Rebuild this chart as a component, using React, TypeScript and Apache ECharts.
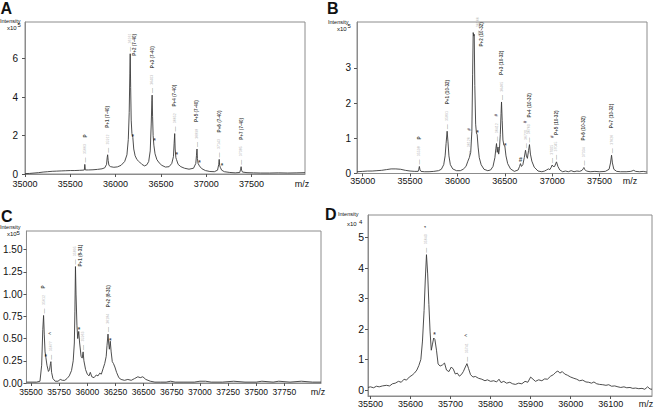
import React, { useEffect, useRef } from 'react';
import * as echarts from 'echarts';

// ---------- data ----------
const aSpectrum: number[][] = [
  [35000, 0.02], [35050, 0.03], [35100, 0.05], [35150, 0.07], [35200, 0.1], [35250, 0.12], [35300, 0.14],
  [35350, 0.15], [35400, 0.16], [35450, 0.17], [35500, 0.18], [35550, 0.18], [35600, 0.19], [35640, 0.2],
  [35655, 0.21], [35660, 0.5], [35666, 0.21], [35700, 0.21], [35750, 0.22], [35800, 0.24], [35850, 0.27],
  [35880, 0.32], [35900, 0.5], [35907, 0.85], [35912, 1.0], [35918, 0.7], [35926, 0.45], [35945, 0.38],
  [35980, 0.35], [36020, 0.37], [36060, 0.45], [36100, 0.65], [36125, 1.0], [36140, 1.8], [36150, 3.2],
  [36157, 5.2], [36161, 6.25], [36166, 4.5], [36172, 2.8], [36180, 2.1], [36190, 1.9], [36200, 1.3],
  [36215, 0.95], [36235, 0.75], [36250, 0.68], [36265, 0.62], [36290, 0.5], [36320, 0.42], [36345, 0.48],
  [36365, 0.65], [36382, 1.2], [36393, 2.6], [36400, 3.8], [36403, 4.1], [36408, 3.0], [36414, 2.0],
  [36422, 1.5], [36435, 1.05], [36455, 0.75], [36480, 0.58], [36510, 0.45], [36550, 0.36], [36590, 0.38],
  [36620, 0.55], [36638, 0.9], [36646, 1.6], [36652, 2.1], [36657, 1.3], [36665, 0.85], [36672, 0.75],
  [36690, 0.5], [36720, 0.38], [36760, 0.3], [36810, 0.25], [36860, 0.3], [36885, 0.55], [36892, 0.95],
  [36898, 1.3], [36903, 0.8], [36910, 0.55], [36925, 0.42], [36950, 0.28], [36990, 0.18], [37040, 0.13],
  [37090, 0.12], [37125, 0.2], [37138, 0.5], [37143, 0.76], [37148, 0.45], [37155, 0.35], [37170, 0.2],
  [37200, 0.12], [37260, 0.08], [37320, 0.06], [37370, 0.08], [37380, 0.25], [37385, 0.38], [37390, 0.2],
  [37400, 0.1], [37450, 0.07], [37520, 0.06], [37600, 0.05], [37700, 0.05], [37800, 0.06], [37900, 0.05],
  [38000, 0.06], [38090, 0.07],
];

const bSpectrum: number[][] = [
  [34940, 0.05], [35000, 0.06], [35050, 0.07], [35100, 0.07], [35150, 0.08], [35200, 0.09], [35250, 0.11],
  [35300, 0.13], [35350, 0.13], [35400, 0.12], [35450, 0.09], [35500, 0.07], [35550, 0.06], [35585, 0.06],
  [35592, 0.12], [35598, 0.2], [35605, 0.1], [35615, 0.06], [35650, 0.05], [35700, 0.05], [35750, 0.06],
  [35800, 0.08], [35830, 0.12], [35855, 0.25], [35870, 0.5], [35880, 0.85], [35891, 1.2], [35900, 0.9],
  [35910, 0.5], [35925, 0.25], [35950, 0.13], [35990, 0.08], [36030, 0.08], [36060, 0.12], [36090, 0.2],
  [36110, 0.35], [36125, 0.45], [36140, 0.6], [36152, 1.2], [36160, 2.8], [36166, 4.0], [36172, 3.9],
  [36177, 3.95], [36183, 2.5], [36192, 1.4], [36200, 1.15], [36208, 1.1], [36218, 0.75], [36230, 0.45],
  [36250, 0.25], [36280, 0.12], [36320, 0.08], [36350, 0.1], [36375, 0.2], [36395, 0.45], [36405, 0.7],
  [36412, 0.85], [36420, 0.6], [36428, 0.75], [36435, 0.55], [36443, 0.7], [36452, 1.1], [36460, 1.7],
  [36465, 2.03], [36472, 1.5], [36480, 0.95], [36490, 0.8], [36500, 0.78], [36512, 0.5], [36530, 0.28],
  [36560, 0.13], [36600, 0.06], [36640, 0.1], [36655, 0.2], [36665, 0.28], [36675, 0.2], [36690, 0.25],
  [36705, 0.45], [36718, 0.66], [36728, 0.5], [36738, 0.43], [36750, 0.65], [36760, 0.82], [36770, 0.55],
  [36785, 0.35], [36810, 0.18], [36850, 0.07], [36890, 0.05], [36920, 0.07], [36940, 0.1], [36960, 0.13],
  [36975, 0.11], [36990, 0.18], [36999, 0.24], [37010, 0.2], [37025, 0.2], [37045, 0.33], [37060, 0.2],
  [37080, 0.1], [37110, 0.05], [37140, 0.07], [37170, 0.05], [37200, 0.08], [37230, 0.05], [37260, 0.07],
  [37290, 0.06], [37315, 0.09], [37328, 0.14], [37334, 0.17], [37342, 0.12], [37360, 0.07], [37400, 0.05],
  [37450, 0.06], [37500, 0.05], [37560, 0.06], [37600, 0.12], [37615, 0.3], [37626, 0.52], [37635, 0.3],
  [37650, 0.12], [37680, 0.06], [37720, 0.05], [37780, 0.05], [37830, 0.06], [37860, 0.09], [37880, 0.06],
  [37920, 0.05], [37960, 0.06], [38000, 0.04],
];

const cSpectrum: number[][] = [
  [35460, 0.01], [35500, 0.01], [35550, 0.01], [35580, 0.02], [35595, 0.2], [35605, 0.6], [35612, 0.76],
  [35618, 0.55], [35625, 0.35], [35632, 0.29], [35642, 0.2], [35655, 0.13], [35665, 0.15], [35673, 0.22],
  [35677, 0.24], [35683, 0.12], [35695, 0.05], [35715, 0.02], [35740, 0.02], [35760, 0.04], [35780, 0.03],
  [35800, 0.03], [35820, 0.05], [35840, 0.08], [35860, 0.14], [35875, 0.25], [35885, 0.45], [35890, 0.8],
  [35895, 1.31], [35900, 1.0], [35908, 0.65], [35915, 0.5], [35924, 0.58], [35932, 0.45], [35945, 0.3],
  [35955, 0.28], [35963, 0.35], [35970, 0.25], [35985, 0.15], [36000, 0.1], [36015, 0.08], [36027, 0.12],
  [36040, 0.07], [36060, 0.06], [36080, 0.09], [36095, 0.08], [36110, 0.11], [36125, 0.1], [36140, 0.16],
  [36155, 0.22], [36168, 0.3], [36175, 0.42], [36184, 0.55], [36190, 0.45], [36196, 0.38], [36204, 0.47],
  [36212, 0.35], [36222, 0.24], [36232, 0.22], [36245, 0.18], [36260, 0.12], [36280, 0.06], [36300, 0.04],
  [36330, 0.03], [36360, 0.04], [36390, 0.03], [36420, 0.05], [36449, 0.07], [36470, 0.06], [36493, 0.07],
  [36520, 0.04], [36560, 0.02], [36600, 0.01], [36650, 0.01], [36700, 0.01], [36740, 0.02], [36780, 0.01],
  [36850, 0.01], [36950, 0.01], [37000, 0.02], [37050, 0.02], [37100, 0.01], [37200, 0.01], [37300, 0.02],
  [37400, 0.01], [37500, 0.01], [37550, 0.02], [37650, 0.01], [37700, 0.02], [37800, 0.01], [37900, 0.02],
  [38000, 0.01], [38075, 0.01],
];

const dSpectrum: number[][] = [
  [35494, 0.08], [35500, 0.1], [35508, 0.07], [35515, 0.12], [35522, 0.1], [35530, 0.13], [35540, 0.15],
  [35548, 0.13], [35555, 0.2], [35562, 0.22], [35570, 0.28], [35577, 0.25], [35584, 0.35], [35590, 0.32],
  [35597, 0.42], [35604, 0.48], [35610, 0.55], [35616, 0.65], [35621, 0.8], [35626, 1.0], [35630, 1.6],
  [35634, 2.6], [35637, 3.6], [35640, 4.43], [35643, 3.8], [35646, 2.8], [35649, 1.9], [35652, 1.3],
  [35655, 1.5], [35658, 1.7], [35661, 1.65], [35665, 1.3], [35669, 0.85], [35674, 0.78], [35680, 0.82],
  [35685, 0.88], [35690, 0.65], [35696, 0.6], [35702, 0.75], [35707, 0.68], [35712, 0.52], [35717, 0.55],
  [35722, 0.45], [35727, 0.5], [35732, 0.6], [35737, 0.75], [35741, 0.86], [35745, 0.7], [35750, 0.5],
  [35756, 0.42], [35762, 0.44], [35770, 0.38], [35778, 0.35], [35786, 0.3], [35792, 0.33], [35800, 0.28],
  [35808, 0.3], [35815, 0.26], [35821, 0.35], [35826, 0.24], [35833, 0.28], [35840, 0.22], [35848, 0.25],
  [35855, 0.2], [35862, 0.18], [35870, 0.22], [35878, 0.2], [35886, 0.28], [35893, 0.25], [35900, 0.42],
  [35906, 0.35], [35912, 0.28], [35920, 0.33], [35928, 0.3], [35935, 0.36], [35942, 0.35], [35950, 0.45],
  [35957, 0.5], [35963, 0.58], [35968, 0.62], [35973, 0.55], [35979, 0.6], [35985, 0.52], [35992, 0.48],
  [36000, 0.42], [36008, 0.38], [36015, 0.35], [36022, 0.3], [36030, 0.32], [36038, 0.26], [36045, 0.25],
  [36052, 0.22], [36058, 0.26], [36065, 0.2], [36072, 0.18], [36080, 0.17], [36088, 0.15], [36095, 0.17],
  [36102, 0.12], [36110, 0.13], [36118, 0.1], [36125, 0.08], [36133, 0.1], [36140, 0.07], [36148, 0.08],
  [36155, 0.05], [36162, 0.06], [36170, 0.04], [36178, 0.05], [36185, 0.02], [36192, 0.1], [36198, 0.03],
  [36203, 0.02],
];

// tick values
const aXTicks = [35000, 35500, 36000, 36500, 37000, 37500];
const aYTicks = [0, 2, 4, 6];
const bXTicks = [35000, 35500, 36000, 36500, 37000, 37500];
const bYTicks = [0, 1, 2, 3];
const cXTicks = [35500, 35750, 36000, 36250, 36500, 36750, 37000, 37250, 37500, 37750];
const cYTicks = [0, 0.25, 0.5, 0.75, 1.0, 1.25, 1.5];
const dXTicks = [35500, 35600, 35700, 35800, 35900, 36000, 36100];
const dYTicks = [0, 1, 2, 3, 4, 5];

// peak annotations: [m/z, intensity, mass text, name, name beside the peak]
type Peak = [number, number, string, string, boolean?];
const aPeaks: Peak[] = [
  [35663, 0.5, '35663', 'P'],
  [35912, 1.0, '35912', 'P+1 (7-40)'],
  [36161, 6.25, '36161', 'P+2 (7-40)', true],
  [36403, 4.1, '36403', 'P+3 (7-40)'],
  [36652, 2.1, '36652', 'P+4 (7-40)'],
  [36898, 1.3, '36898', 'P+5 (7-40)'],
  [37143, 0.76, '37143', 'P+6 (7-40)'],
  [37385, 0.38, '37385', 'P+7 (7-40)'],
];
const aMarks: [number, number, string][] = [
  [36190, 1.95, '*'], [36428, 1.75, '*'], [36675, 1.0, '*'], [36925, 0.6, '*'], [37175, 0.42, '*'],
];
const bPeaks: Peak[] = [
  [35598, 0.2, '35598', 'P'],
  [35891, 1.2, '35891', 'P+1 (10-32)'],
  [36126, 0.45, '36126', '#'],
  [36166, 4.0, '36166', 'P+2 (10-32)', true],
  [36412, 0.85, '36412', '#'],
  [36465, 2.03, '36465', 'P+3 (10-32)'],
  [36718, 0.66, '36720', '#'],
  [36760, 0.82, '36760', 'P+4 (10-32)'],
  [36999, 0.24, '37005', '#'],
  [37045, 0.33, '37045', 'P+5 (10-32)'],
  [37334, 0.17, '37334', 'P+6 (10-32)'],
  [37626, 0.52, '37626', 'P+7 (10-32)'],
];
const bMarks: [number, number, string][] = [
  [36212, 1.15, '*'], [36505, 0.8, '*'], [36665, 0.4, '#'],
];
const cPeaks: Peak[] = [
  [35612, 0.76, '35612', 'P'],
  [35677, 0.24, '35677', '^'],
  [35895, 1.31, '35895', 'P+1 (8-31)', true],
  [35963, 0.35, '35963', ''],
  [36184, 0.55, '36184', 'P+2 (8-31)'],
];
const cMarks: [number, number, string][] = [
  [35632, 0.3, '*'], [35926, 0.6, '*'], [36204, 0.48, '*'],
];
const dPeaks: Peak[] = [
  [35640, 4.43, '35640', '*'],
  [35741, 0.86, '35741', '^'],
];
const dMarks: [number, number, string][] = [[35660, 1.8, '*']];

// ---------- helpers ----------
const FONT = '"Liberation Sans", Arial, Helvetica, sans-serif';
const LINE = '#3a3a3a';
const BOX = '#8c8c8c';

function xAxisCfg(i: number, min: number, max: number, ticks: number[], fontSize: number, margin: number) {
  return {
    type: 'value', gridIndex: i, min, max,
    axisLine: { show: true, onZero: false, lineStyle: { color: BOX, width: 1 } },
    axisTick: { show: true, length: 3, customValues: ticks, lineStyle: { color: '#555' } },
    axisLabel: { customValues: ticks, fontSize, color: '#111', margin, fontFamily: FONT, formatter: (v: number) => String(v) },
    splitLine: { show: false },
  };
}
function yAxisCfg(i: number, min: number, max: number, ticks: number[], fontSize: number, margin: number, digits: number) {
  return {
    type: 'value', gridIndex: i, min, max,
    axisLine: { show: true, onZero: false, lineStyle: { color: BOX, width: 1 } },
    axisTick: { show: true, length: 3, customValues: ticks, lineStyle: { color: '#555' } },
    axisLabel: { customValues: ticks, fontSize, color: '#111', margin, fontFamily: FONT, formatter: (v: number) => v.toFixed(digits) },
    splitLine: { show: false },
  };
}
function spectrumSeries(i: number, data: number[][]) {
  return {
    type: 'line', xAxisIndex: i, yAxisIndex: i, data, showSymbol: false, symbol: 'none', silent: true,
    lineStyle: { color: LINE, width: 0.9 }, z: 2,
  };
}
const rich = {
  d: { color: '#444', fontSize: 5, fontFamily: FONT },
  n: { color: '#9a9a9a', fontSize: 3.6, fontFamily: FONT },
  t: { color: '#111', fontSize: 4.6, fontFamily: FONT, fontWeight: 'bold' },
};
// label offsets for "beside" names, in the rotated label frame: [along text (+ = up), across (+ = right)]
type SideLayout = { num: [number, number]; name: [number, number] };
function peakSeries(i: number, peaks: Peak[], side: SideLayout) {
  const items: any[] = [];
  peaks.forEach(([x, y, mass, name, beside]) => {
    if (beside) {
      items.push({ value: [x, y], txt: `{d|—} {n|${mass}}`, off: side.num });
      items.push({ value: [x, y], txt: `{t|${name}}`, off: side.name });
    } else {
      items.push({ value: [x, y], txt: `{d|—} {n|${mass}}${name ? `  {t|${name}}` : ''}`, off: [2, 0] });
    }
  });
  return {
    type: 'scatter', xAxisIndex: i, yAxisIndex: i, symbolSize: 0, silent: true, z: 5,
    data: items.map((it) => ({ value: it.value, txt: it.txt, label: { offset: it.off } })),
    label: {
      show: true, position: 'inside', rotate: 90, align: 'left', verticalAlign: 'middle',
      formatter: (p: any) => p.data.txt, rich,
    },
  };
}
function markSeries(i: number, marks: [number, number, string][]) {
  return {
    type: 'scatter', xAxisIndex: i, yAxisIndex: i, symbolSize: 0, silent: true, z: 5,
    data: marks.map(([x, y, t]) => ({ value: [x, y], txt: t })),
    label: {
      show: true, position: 'inside', fontSize: 6.5, color: '#111', fontFamily: FONT, fontWeight: 'bold',
      formatter: (p: any) => p.data.txt,
    },
  };
}
function txt(text: string, x: number, y: number, fontSize: number, extra: any = {}) {
  return {
    type: 'text', x, y, silent: true,
    style: { text, fill: '#111', fontSize, fontFamily: FONT, align: 'left', verticalAlign: 'top', ...extra },
  };
}

export default function App() {
  const ref = useRef<HTMLDivElement>(null);
  useEffect(() => {
    if (!ref.current) return;
    const chart = echarts.init(ref.current, null, { renderer: 'svg' });
    const option: any = {
      animation: false,
      backgroundColor: '#fff',
      grid: [
        { left: 25, top: 22, width: 280, height: 152, show: true, borderColor: BOX, borderWidth: 1 },
        { left: 357, top: 22, width: 290, height: 151.5, show: true, borderColor: BOX, borderWidth: 1 },
        { left: 25, top: 231, width: 296, height: 152, show: true, borderColor: BOX, borderWidth: 1 },
        { left: 368, top: 215, width: 284, height: 182, show: true, borderColor: BOX, borderWidth: 1 },
      ],
      xAxis: [
        xAxisCfg(0, 35000, 38090, aXTicks, 9, 5),
        xAxisCfg(1, 34940, 38000, bXTicks, 9, 3),
        xAxisCfg(2, 35460, 38075, cXTicks, 8.5, 4),
        xAxisCfg(3, 35494, 36203, dXTicks, 9, 3),
      ],
      yAxis: [
        yAxisCfg(0, 0, 7.9, aYTicks, 10, 7, 0),
        yAxisCfg(1, 0, 4.3, bYTicks, 10, 6, 0),
        yAxisCfg(2, 0, 1.71, cYTicks, 10, 4, 2),
        yAxisCfg(3, -0.2, 5.73, dYTicks, 10.5, 4, 0),
      ],
      series: [
        spectrumSeries(0, aSpectrum), peakSeries(0, aPeaks, { num: [2, 0], name: [-2, 4] }), markSeries(0, aMarks),
        spectrumSeries(1, bSpectrum), peakSeries(1, bPeaks, { num: [-3, 4.5], name: [-14, 8.5] }), markSeries(1, bMarks),
        spectrumSeries(2, cSpectrum), peakSeries(2, cPeaks, { num: [2, 0], name: [0, 5.5] }), markSeries(2, cMarks),
        spectrumSeries(3, dSpectrum), peakSeries(3, dPeaks, { num: [2, 0], name: [0, 4] }), markSeries(3, dMarks),
      ],
      graphic: [
        txt('A', 0.5, 0.5, 16, { fontWeight: 'bold' }),
        txt('B', 327, 0.5, 16, { fontWeight: 'bold' }),
        txt('C', 1, 208, 16, { fontWeight: 'bold' }),
        txt('D', 325, 206, 16, { fontWeight: 'bold' }),
        txt('Intensity', 0, 17.5, 5.5),
        txt('x10', 7, 24.5, 6),
        txt('5', 17.5, 22, 6),
        txt('Intensity', 328, 19, 5.5),
        txt('x10', 337, 25.5, 6),
        txt('5', 347.5, 23, 6),
        txt('Intensity', 0, 223.5, 5.5),
        txt('x10', 7, 230.5, 6),
        txt('5', 16.5, 229.5, 6),
        txt('Intensity', 338, 211, 5.5),
        txt('x10', 347, 221, 6),
        txt('4', 359, 218.5, 6),
        txt('m/z', 302, 183.5, 9, { align: 'center', verticalAlign: 'middle' }),
        txt('m/z', 630, 181, 9, { align: 'center', verticalAlign: 'middle' }),
        txt('m/z', 318, 391.5, 9, { align: 'center', verticalAlign: 'middle' }),
        txt('m/z', 646, 404, 9, { align: 'center', verticalAlign: 'middle' }),
      ],
    };
    chart.setOption(option);
    return () => chart.dispose();
  }, []);
  return <div ref={ref} style={{ position: 'absolute', left: 0, top: 0, width: 654, height: 408 }} />;
}
